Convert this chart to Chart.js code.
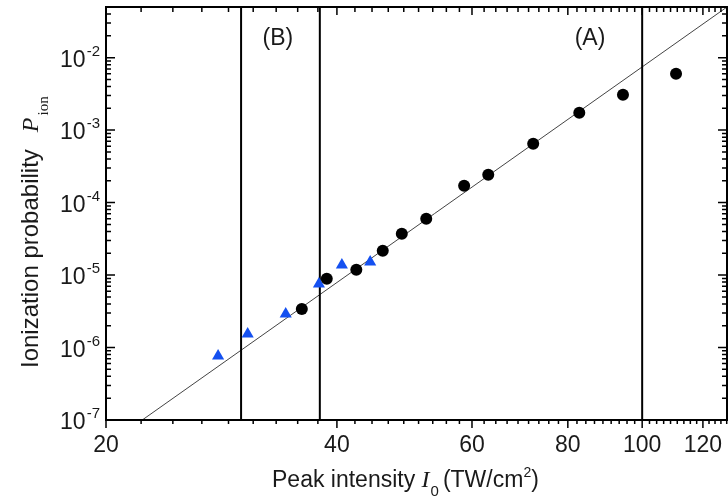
<!DOCTYPE html>
<html>
<head>
<meta charset="utf-8">
<script src="https://cdn.jsdelivr.net/npm/chart.js@4.4.1/dist/chart.umd.min.js"></script>
<style>
  html, body { margin: 0; padding: 0; background: #fff; overflow: hidden; }
  canvas { display: block; }
</style>
</head>
<body>
<canvas id="chart" width="728" height="498"></canvas>
<script>
// data
var circleX = [36.0, 38.8, 42.4, 45.9, 48.6, 52.3, 58.6, 63.0, 72.1, 82.8, 94.4, 110.7];
var circleY = [3.41e-6, 8.87e-6, 1.18e-5, 2.16e-5, 3.71e-5, 5.97e-5, 1.71e-4, 2.42e-4, 6.49e-4, 1.74e-3, 3.08e-3, 6.01e-3];
var triX = [28.0, 30.6, 34.3, 37.9, 40.6, 44.2];
var triY = [7.66e-7, 1.54e-6, 2.91e-6, 7.55e-6, 1.38e-5, 1.52e-5];
var fitX = [22.3, 129];
var fitY = [1e-7, 0.05];
var regionX = [30, 38, 100];
var regionLabels = ["(B)", "(A)"];
var regionLabelX = [33.5, 85.5];
var xTicks = [20, 40, 60, 80, 100, 120];
var yTicks = [1e-7, 1e-6, 1e-5, 1e-4, 1e-3, 1e-2];
var yTickExp = ["-7", "-6", "-5", "-4", "-3", "-2"];
var xMin = 20, xMax = 129, yMin = 1e-7, yMax = 0.05;

(function() {
  "use strict";

  var SANS = '"Liberation Sans", Arial, sans-serif';
  var SERIF = '"Liberation Serif", "Times New Roman", serif';

  var pts = function(xs, ys) {
    return xs.map(function(v, i) { return { x: v, y: ys[i] }; });
  };

  var datasets = [
    {
      data: pts(circleX, circleY),
      pointStyle: 'circle', pointRadius: 6,
      backgroundColor: '#000', borderColor: '#000', borderWidth: 0,
      order: 0
    },
    {
      data: pts(triX, triY),
      pointStyle: 'triangle', pointRadius: 7,
      backgroundColor: '#1450f0', borderColor: '#1450f0', borderWidth: 0,
      order: 0
    },
    {
      data: pts(fitX, fitY),
      showLine: true, pointRadius: 0,
      borderColor: '#444', borderWidth: 1,
      order: 2
    }
  ];
  regionX.forEach(function(v) {
    datasets.push({
      data: [{ x: v, y: yMin }, { x: v, y: yMax }],
      showLine: true, pointRadius: 0,
      borderColor: '#000', borderWidth: 2,
      order: 1
    });
  });

  // frame, inward/outward ticks and all texts
  var decor = {
    id: 'decor',
    afterDraw: function(chart) {
      var ctx = chart.ctx, a = chart.chartArea;
      var xs = chart.scales.x, ys = chart.scales.y;
      var k, v, p;

      ctx.save();
      ctx.strokeStyle = '#000';
      ctx.lineWidth = 2;
      ctx.strokeRect(a.left, a.top, a.right - a.left, a.bottom - a.top);

      // x ticks: bottom outward, top inward
      ctx.lineWidth = 1.5;
      ctx.beginPath();
      var step = 20 / 9;
      xTicks.forEach(function(t) {
        p = xs.getPixelForValue(t);
        ctx.moveTo(p, a.bottom); ctx.lineTo(p, a.bottom + 8);
        ctx.moveTo(p, a.top); ctx.lineTo(p, a.top + 8);
        for (k = 1; k <= 8; k++) {
          v = t + k * step;
          if (v > xMax) break;
          p = xs.getPixelForValue(v);
          ctx.moveTo(p, a.bottom); ctx.lineTo(p, a.bottom + 4);
          ctx.moveTo(p, a.top); ctx.lineTo(p, a.top + 5);
        }
      });
      // y ticks: both sides inward
      yTicks.forEach(function(t) {
        p = ys.getPixelForValue(t);
        ctx.moveTo(a.left, p); ctx.lineTo(a.left + 9, p);
        ctx.moveTo(a.right, p); ctx.lineTo(a.right - 9, p);
        for (k = 2; k <= 9; k++) {
          v = t * k;
          if (v > yMax * 1.0001) break;
          p = ys.getPixelForValue(v);
          ctx.moveTo(a.left, p); ctx.lineTo(a.left + 5, p);
          ctx.moveTo(a.right, p); ctx.lineTo(a.right - 5, p);
        }
      });
      ctx.stroke();

      ctx.fillStyle = '#1a1a1a';
      ctx.textBaseline = 'alphabetic';

      // x tick labels
      ctx.font = '23px ' + SANS;
      ctx.textAlign = 'center';
      xTicks.forEach(function(t) {
        ctx.fillText(String(t), xs.getPixelForValue(t), 452);
      });

      // y tick labels 10^n
      yTicks.forEach(function(t, j) {
        p = ys.getPixelForValue(t);
        ctx.textAlign = 'right';
        ctx.font = '15px ' + SANS;
        var sw = ctx.measureText(yTickExp[j]).width;
        ctx.fillText(yTickExp[j], 100, p - 2);
        ctx.font = '23px ' + SANS;
        ctx.fillText('10', 100 - sw - 1, p + 9);
      });

      // region labels
      ctx.font = '23px ' + SANS;
      ctx.textAlign = 'center';
      regionLabels.forEach(function(s, j) {
        ctx.fillText(s, xs.getPixelForValue(regionLabelX[j]), 45);
      });

      // x title
      ctx.textAlign = 'left';
      var x = 272, y = 487;
      var run = function(txt, font, dy) {
        ctx.font = font;
        ctx.fillText(txt, x, y + (dy || 0));
        x += ctx.measureText(txt).width;
      };
      run('Peak intensity ', '23px ' + SANS);
      run('I', 'italic 24px ' + SERIF);
      x += 1;
      run('0', '15px ' + SANS, 9);
      x += 4;
      run('(TW/cm', '23px ' + SANS);
      run('2', '14px ' + SANS, -10);
      run(')', '23px ' + SANS);

      // y title, rotated
      ctx.translate(38, 368);
      ctx.rotate(-Math.PI / 2);
      x = 0; y = 0;
      run('Ionization probability', '24px ' + SANS);
      x += 17;
      run('P', 'italic 24px ' + SERIF);
      x += 2;
      run('ion', '15px ' + SERIF, 10);

      ctx.restore();
    }
  };

  new Chart(document.getElementById('chart'), {
    type: 'scatter',
    data: { datasets: datasets },
    options: {
      responsive: false,
      animation: false,
      events: [],
      layout: { autoPadding: false, padding: { left: 106, right: 1, top: 7, bottom: 78 } },
      scales: {
        x: { type: 'logarithmic', min: xMin, max: xMax, display: false },
        y: { type: 'logarithmic', min: yMin, max: yMax, display: false }
      },
      plugins: { legend: { display: false }, tooltip: { enabled: false } }
    },
    plugins: [decor]
  });
})();
</script>
</body>
</html>
